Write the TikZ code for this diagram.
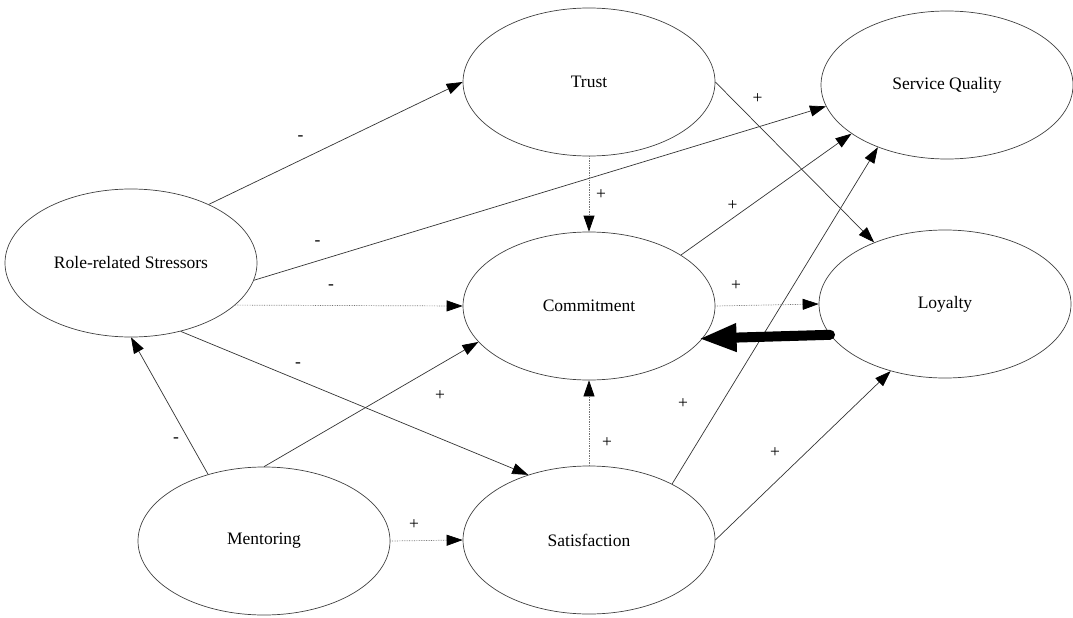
\documentclass[tikz,border=0pt]{standalone}
\usepackage{fontspec}
\setmainfont{Liberation Serif}
\usetikzlibrary{shapes.geometric,arrows.meta}
\begin{document}
\begin{tikzpicture}[x=1pt,y=-1pt,
  ell/.style={ellipse, draw=black!75, line width=0.7pt, minimum width=252pt, minimum height=148pt, inner sep=0pt, font=\fontsize{17.5}{20}\selectfont},
  conn/.style={draw=black!80, line width=0.7pt, -{Triangle[length=16pt,width=11pt,black]}},
  dconn/.style={conn, draw=black!55, densely dotted},
  sign/.style={font=\fontsize{17.5}{20}\selectfont, inner sep=0pt},
  bigarrow/.style={draw=black, line width=10pt, line cap=round, -{Triangle[length=38pt,width=26pt]}}
]
\useasboundingbox (0,0) rectangle (1073,618);

% constructs
\node[ell] (str) at (131,263) {Role-related Stressors};
\node[ell] (tru) at (589,82) {Trust};
\node[ell] (sq)  at (947,85) {Service Quality};
\node[ell] (com) at (589,306) {Commitment};
\node[ell] (loy) at (945,304) {Loyalty};
\node[ell] (men) at (264,541) {Mentoring};
\node[ell] (sat) at (589,540) {Satisfaction};

% connectors
\draw[conn]  (str.37.5) -- (tru.180);
\draw[conn]  (str.-8.7) -- (sq.190.5);
\draw[dconn] (str.-22) -- (com.180);
\draw[conn]  (tru.east) -- (loy.139);
\draw[dconn] (tru.south) -- (com.north);
\draw[conn]  (com.29.2) -- (sq.207.3);
\draw[conn]  (sat.34.8) -- (sq.222.8);
\draw[dconn] (com.east) -- (loy.west);
\draw[bigarrow, shorten >=-4pt] (loy.195) -- (com.-16);
\draw[conn]  (men.130.3) -- (str.south);
\draw[conn]  (str.-54) -- (sat.133.6);
\draw[conn]  (men.north) -- (com.198.7);
\draw[dconn] (men.east) -- (sat.west);
\draw[dconn] (sat.north) -- (com.south);
\draw[conn]  (sat.east) -- (loy.231);

% signs
\node[sign] (s1)  at (300.6,137.7) {-};
\node[sign] (s2)  at (317.5,242.7) {-};
\node[sign] (s3)  at (331,286.7) {-};
\node[sign] (s4)  at (757.5,99) {+};
\node[sign] (s5)  at (601,195) {+};
\node[sign] (s6)  at (732.6,205.7) {+};
\node[sign] (s7)  at (736,286) {+};
\node[sign] (s8)  at (176,440) {-};
\node[sign] (s9)  at (298,365) {-};
\node[sign] (s10) at (440,396) {+};
\node[sign] (s11) at (414,525) {+};
\node[sign] (s12) at (607,443) {+};
\node[sign] (s13) at (683,404) {+};
\node[sign] (s14) at (775,453) {+};
\end{tikzpicture}
\end{document}
